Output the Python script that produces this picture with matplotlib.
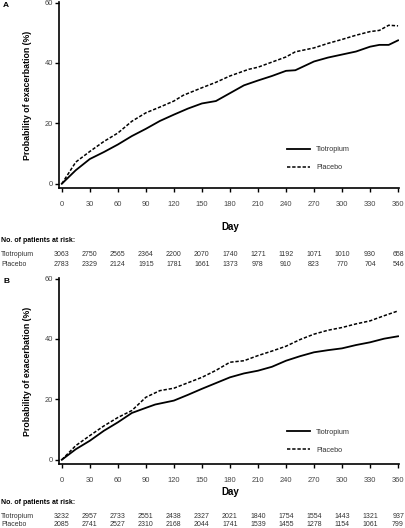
import matplotlib

matplotlib.use("Agg")
import matplotlib.pyplot as plt
from matplotlib.transforms import blended_transform_factory

# Panel A curves (day, %)
a_tio_day = [0, 15, 30, 45, 60, 75, 90, 105, 120, 135, 150, 165, 180, 195, 210, 225, 240, 250, 270, 285, 300, 315, 330, 340, 350, 360]
a_tio_pct = [0, 4.5, 8.2, 10.5, 13.0, 15.8, 18.2, 20.8, 22.9, 24.9, 26.6, 27.4, 30.0, 32.6, 34.2, 35.7, 37.4, 37.6, 40.5, 41.8, 42.8, 43.8, 45.4, 46.0, 46.0, 47.5]
a_pla_day = [0, 15, 30, 45, 60, 75, 90, 105, 120, 130, 150, 165, 180, 200, 210, 225, 240, 250, 270, 285, 300, 315, 330, 340, 350, 360]
a_pla_pct = [0, 7.2, 10.7, 14.0, 16.8, 20.7, 23.5, 25.4, 27.4, 29.3, 31.8, 33.6, 35.7, 37.9, 38.6, 40.3, 42.0, 43.7, 45.0, 46.5, 47.8, 49.2, 50.4, 50.8, 52.5, 52.3]

# Panel B curves (day, %)
b_tio_day = [0, 15, 30, 45, 60, 75, 90, 100, 120, 135, 150, 165, 180, 195, 210, 225, 240, 255, 270, 285, 300, 315, 330, 345, 360]
b_tio_pct = [0, 3.5, 6.3, 9.6, 12.4, 15.5, 17.2, 18.3, 19.6, 21.5, 23.5, 25.4, 27.3, 28.6, 29.5, 30.8, 32.8, 34.3, 35.6, 36.3, 36.9, 38.0, 38.9, 40.1, 40.9]
b_pla_day = [0, 15, 30, 45, 60, 75, 90, 105, 120, 135, 150, 165, 180, 195, 210, 225, 240, 255, 270, 285, 300, 315, 330, 345, 360]
b_pla_pct = [0, 4.7, 8.0, 11.2, 14.0, 16.3, 20.7, 22.9, 23.7, 25.5, 27.3, 29.6, 32.3, 32.8, 34.5, 36.0, 37.6, 39.8, 41.6, 42.9, 43.8, 45.0, 46.0, 47.7, 49.3]

risk_days = [0, 30, 60, 90, 120, 150, 180, 210, 240, 270, 300, 330, 360]
a_risk_tio = [3063, 2750, 2565, 2364, 2200, 2070, 1740, 1271, 1192, 1071, 1010, 930, 658]
a_risk_pla = [2783, 2329, 2124, 1915, 1781, 1661, 1373, 978, 910, 823, 770, 704, 546]
b_risk_tio = [3232, 2957, 2733, 2551, 2438, 2327, 2021, 1840, 1754, 1554, 1443, 1321, 937]
b_risk_pla = [2085, 2741, 2527, 2310, 2168, 2044, 1741, 1539, 1455, 1278, 1154, 1061, 799]

W, H = 405, 528
plt.rcParams["font.family"] = ["Liberation Sans", "DejaVu Sans"]
fig = plt.figure(figsize=(W / 100, H / 100), dpi=100)


def px_axes(left, top, right, bottom):
    return fig.add_axes([left / W, 1 - bottom / H, (right - left) / W, (bottom - top) / H])


def panel(ax, tio_d, tio_p, pla_d, pla_p, letter, letter_y, leg_y, day_y, risk_y, row_ys, risk_tio, risk_pla):
    ax.plot(tio_d, tio_p, color="black", lw=1.3, label="Tiotropium")
    ax.plot(pla_d, pla_p, color="black", lw=1.1, ls=(0, (2.2, 1.2)), label="Placebo")
    ax.set_xlim(-3, 361)
    ax.set_ylim(-1.4, 60.2)
    ax.set_xticks(risk_days)
    ax.set_yticks([0, 20, 40, 60])
    for s in ("top", "right"):
        ax.spines[s].set_visible(False)
    for s in ("left", "bottom"):
        ax.spines[s].set_linewidth(1.2)
    ax.tick_params(length=3, width=1, labelsize=5.4, labelcolor="#444444", pad=6)
    ax.tick_params(axis="y", pad=1.5)
    ax.set_ylabel("Probability of exacerbation (%)", fontsize=6.3, fontweight="bold", labelpad=9)
    ax.legend(loc="upper left", bbox_to_anchor=(0.65, leg_y), frameon=False, fontsize=5.2,
              handlelength=3.2, handletextpad=0.9, labelspacing=1.5, labelcolor="#333333")
    fig.text(3 / W, 1 - letter_y / H, letter, fontsize=6, fontweight="bold", va="top")
    tr = blended_transform_factory(ax.transData, fig.transFigure)
    fig.text(230 / W, 1 - day_y / H, "Day", fontsize=7, fontweight="bold", ha="center", va="center")
    fig.text(1 / W, 1 - risk_y / H, "No. of patients at risk:", fontsize=5, fontweight="bold", va="center")
    for ry, (name, vals) in zip(row_ys, (("Tiotropium", risk_tio), ("Placebo", risk_pla))):
        y = 1 - ry / H
        fig.text(1 / W, y, name, fontsize=5, va="center", color="#333333")
        for d, v in zip(risk_days, vals):
            ax.text(d, y, str(v), transform=tr, fontsize=5, ha="center", va="center", color="#333333")


ax_a = px_axes(59, 2, 399, 188)
panel(ax_a, a_tio_day, a_tio_pct, a_pla_day, a_pla_pct, "A", 2, 0.26, 227, 240, (254, 264),
      a_risk_tio, a_risk_pla)
ax_b = px_axes(59, 278, 399, 464)
panel(ax_b, b_tio_day, b_tio_pct, b_pla_day, b_pla_pct, "B", 278, 0.225, 492, 503, (516, 524.5),
      b_risk_tio, b_risk_pla)

fig.savefig("out.png", dpi=100)
